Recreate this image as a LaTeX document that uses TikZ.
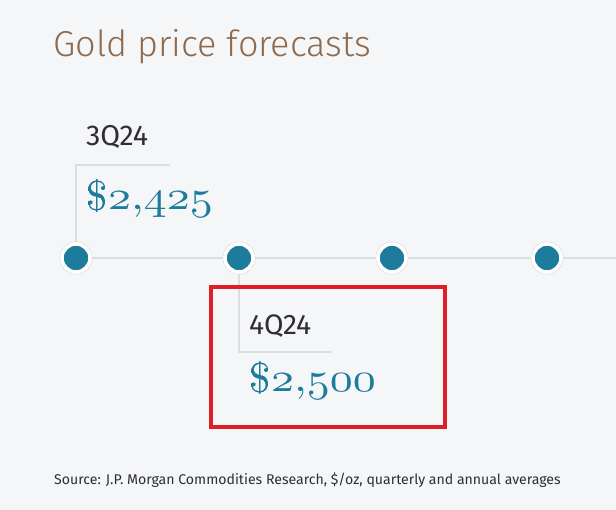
\documentclass[tikz,border=0pt]{standalone}
\usepackage{fontspec}
\setmainfont{Fira Sans}
\newfontfamily\titlefont{Fira Sans Light}
\definecolor{bg}{HTML}{F5F6F8}
\definecolor{teal}{HTML}{1D7B9B}
\definecolor{gold}{HTML}{8E6B4E}
\definecolor{gline}{HTML}{DCDDE0}
\definecolor{txt}{HTML}{2E2E33}
\definecolor{redbox}{HTML}{E01E28}
\newcommand{\osd}[1]{{\fontencoding{OML}\fontfamily{cmm}\fontseries{m}\fontshape{it}\fontsize{10}{12}\selectfont #1}}
\newcommand{\cmrch}[1]{{\fontencoding{OT1}\fontfamily{cmr}\fontseries{m}\fontshape{n}\fontsize{10}{12}\selectfont #1}}
\newcommand{\price}[2]{\scalebox{4.6}[4.1]{\cmrch{\$}\osd{#1}\cmrch{,}\osd{#2}}}
\newcommand{\qtext}[1]{\resizebox{62pt}{!}{\fontsize{20}{24}\selectfont #1}}
\tikzset{
  dot/.style={circle,fill=teal,draw=white,line width=3.5pt,minimum size=28pt,inner sep=0pt},
  ring/.style={circle,draw=gline,line width=0.8pt,minimum size=32pt,inner sep=0pt,fill=white},
  bracket/.style={draw=gline,line width=1.2pt},
  qlabel/.style={anchor=base west,inner sep=0pt,text=txt},
  pricelabel/.style={anchor=base west,inner sep=0pt,text=teal},
}
\begin{document}
\begin{tikzpicture}[x=1pt,y=-1pt]
\fill[bg] (0,0) rectangle (616,510);
\useasboundingbox (0,0) rectangle (616,510);
\node[anchor=base west,inner sep=0pt,text=gold,font=\titlefont\fontsize{36}{40}\selectfont] (title) at (53,57) {Gold price forecasts};
\coordinate (lineend) at (616,258);
\draw[bracket] (76,258) -- (lineend);
\coordinate (c1) at (76,165);
\coordinate (c1e) at (170,165);
\coordinate (c2) at (239,352);
\coordinate (c2e) at (332,352);
\draw[bracket] (76,258) -- (c1) -- (c1e);
\draw[bracket] (239,258) -- (c2) -- (c2e);
\foreach \n/\x in {d1/76,d2/239,d3/392,d4/547}{
  \node[ring] at (\x,258) {};
  \node[dot] (\n) at (\x,258) {};
}
\node[qlabel] (q1) at (86,146) {\qtext{3Q24}};
\node[pricelabel] (p1) at (85,210) {\price{2}{425}};
\node[qlabel] (q2) at (249,335) {\qtext{4Q24}};
\node[pricelabel] (p2) at (248,392) {\price{2}{500}};
\node[draw=redbox,line width=4pt,minimum width=234pt,minimum height=140pt,anchor=north west,inner sep=0pt] (box) at (209,285) {};
\node[anchor=base west,inner sep=0pt,text=txt,font=\fontsize{14.1}{16}\selectfont] (src) at (54,485) {Source: J.P. Morgan Commodities Research, \$/oz, quarterly and annual averages};
\end{tikzpicture}
\end{document}
